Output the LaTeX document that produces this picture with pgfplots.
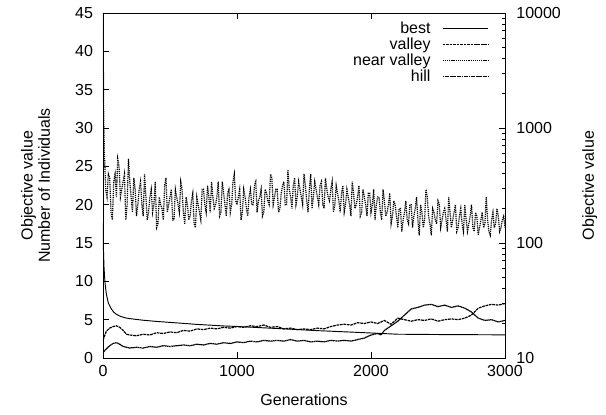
\documentclass[border=0pt]{standalone}
\usepackage{fontspec}
\setmainfont{Liberation Sans}
\usepackage{pgfplots}
\pgfplotsset{compat=1.18}
\begin{document}
\begin{tikzpicture}
\pgfplotsset{
  every axis/.append style={
    font=\fontsize{12}{13}\selectfont,
    /pgf/number format/assume math mode=true,
    /pgf/number format/1000 sep={},
    scale only axis, width=301.5pt, height=258.75pt,
    xmin=0, xmax=3000,
    tick align=inside,
    major tick length=4.5pt, minor tick length=2.5pt,
    every tick/.style={black, line width=0.5pt},
    axis line style={line width=0.6pt},
  },
}
\begin{axis}[
  ymin=0, ymax=45,
  xtick={0,1000,2000,3000},
  xticklabels={0,1000,2000,3000},
  ytick={0,5,10,15,20,25,30,35,40,45},
  xtick pos=both, ytick pos=left,
  xticklabel style={yshift=-2pt},
  yticklabel style={xshift=-4pt},
  xlabel={Generations},
  xlabel style={at={(axis description cs:0.5,-0.122)}, anchor=center},
  ylabel={Objective value\\Number of Individuals},
  ylabel style={at={(axis description cs:-0.168,0.5)}, anchor=center, align=center},
  legend style={draw=none, fill=none, at={(axis description cs:1,1)}, anchor=north east,
    xshift=-9pt, yshift=-3pt, row sep=-0.5pt, font=\fontsize{12}{13}\selectfont,
    nodes={inner sep=1.2pt}},
  legend cell align=right,
  legend plot pos=right,
  legend image code/.code={\path[draw=none, fill=none] (0pt,-2pt) rectangle (42pt,2pt); \draw[#1] (8pt,0pt) -- (42pt,0pt);},
]
\addlegendimage{black, line width=0.7pt}
\addlegendentry{best}
% valley (low line, upper at start)
\addplot[black, line width=0.9pt, dash pattern=on 2pt off 0.6pt] table[row sep=\\] {
x y\\
0 2.3\\ 25 3.5\\ 50 3.9\\ 75 4.1\\ 100 4.2\\ 125 4.0\\ 150 3.6\\ 175 3.1\\ 200 3.0\\ 250 2.9\\ 300 3.1\\ 350 3.0\\ 400 3.3\\ 450 3.2\\ 500 3.4\\ 550 3.3\\ 600 3.6\\ 650 3.5\\ 700 3.8\\ 750 3.7\\ 800 3.9\\ 850 3.8\\ 900 4.0\\ 950 3.9\\ 1000 4.1\\ 1050 4.0\\ 1100 4.2\\ 1150 4.1\\ 1200 4.3\\ 1250 4.0\\ 1300 4.1\\ 1350 3.8\\ 1400 3.9\\ 1450 3.7\\ 1500 3.8\\ 1550 3.7\\ 1600 3.9\\ 1650 3.8\\ 1700 4.1\\ 1750 4.3\\ 1800 4.4\\ 1850 4.3\\ 1900 4.6\\ 1950 4.5\\ 2000 4.7\\ 2050 4.5\\ 2100 4.9\\ 2150 4.4\\ 2200 5.2\\ 2250 5.0\\ 2300 4.8\\ 2350 5.0\\ 2400 4.9\\ 2450 5.1\\ 2500 4.8\\ 2550 5.0\\ 2600 5.1\\ 2650 5.0\\ 2700 5.2\\ 2750 5.6\\ 2800 6.5\\ 2850 6.8\\ 2900 7.0\\ 2950 6.9\\ 3000 7.1\\
};
\addlegendentry{valley}
% near valley (noisy band)
\addplot[black, line width=0.9pt, dash pattern=on 0.9pt off 0.7pt] table[row sep=\\] {
x y\\
0 45\\ 5 32\\ 10 27\\ 20 22\\ 30 21\\ 40 24\\ 50 23.5\\ 60 19\\ 70 18\\ 80 23\\ 90 24\\ 100 21\\ 110 26\\ 120 25\\ 130 21\\ 140 22\\ 150 23\\ 160 24\\ 170 18\\ 180 20\\ 190 26\\ 200 23\\ 210 21\\ 220 19\\ 230 23.5\\ 240 22\\ 250 18.5\\ 260 20\\ 270 22\\ 280 23\\ 290 20\\ 300 18.5\\ 310 24\\ 320 21\\ 330 18\\ 340 19\\ 350 21\\ 360 22\\ 370 19\\ 380 20\\ 390 23\\ 400 17\\ 410 17.5\\ 420 21\\ 430 20\\ 440 19.5\\ 450 18\\ 460 22.5\\ 470 23.5\\ 480 19\\ 490 20\\ 500 21\\ 510 22\\ 520 18\\ 530 18\\ 540 22\\ 550 21\\ 560 20\\ 570 19\\ 580 23\\ 590 22\\ 600 19\\ 610 17.5\\ 620 21\\ 630 20\\ 640 18\\ 650 18.5\\ 660 20.5\\ 670 21.5\\ 680 17.5\\ 690 17\\ 700 21\\ 710 20\\ 720 19\\ 730 18\\ 740 22\\ 750 22\\ 760 20\\ 770 19\\ 780 22.5\\ 790 21\\ 800 19\\ 810 23\\ 820 21\\ 830 19.5\\ 840 20\\ 850 21\\ 860 23\\ 870 18.5\\ 880 19\\ 890 23\\ 900 21.5\\ 910 20\\ 920 18.5\\ 930 21.5\\ 940 22\\ 950 19\\ 960 20\\ 970 23\\ 980 24\\ 990 20.5\\ 1000 20\\ 1010 21\\ 1020 22\\ 1030 18\\ 1040 19\\ 1050 22\\ 1060 21\\ 1070 19.5\\ 1080 18.5\\ 1090 21\\ 1100 22\\ 1110 20\\ 1120 20\\ 1130 22.5\\ 1140 23\\ 1150 19\\ 1160 20.5\\ 1170 21\\ 1180 22\\ 1190 18.5\\ 1200 19\\ 1210 22\\ 1220 21.5\\ 1230 20.5\\ 1240 20\\ 1250 24\\ 1260 23.5\\ 1270 20\\ 1280 21\\ 1290 22\\ 1300 22\\ 1310 19\\ 1320 19.5\\ 1330 21.5\\ 1340 22.5\\ 1350 23\\ 1360 20\\ 1370 20\\ 1380 24.5\\ 1390 22\\ 1400 21\\ 1410 19.5\\ 1420 22.5\\ 1430 23.5\\ 1440 20\\ 1450 21\\ 1460 23\\ 1470 22\\ 1480 21\\ 1490 20\\ 1500 24\\ 1510 22.5\\ 1520 20.5\\ 1530 19\\ 1540 22\\ 1550 24\\ 1560 19.5\\ 1570 21\\ 1580 23\\ 1590 22\\ 1600 21\\ 1610 20\\ 1620 22.5\\ 1630 23\\ 1640 20\\ 1650 19.5\\ 1660 23.5\\ 1670 22\\ 1680 21\\ 1690 20.5\\ 1700 22\\ 1710 23\\ 1720 19\\ 1730 20\\ 1740 22.5\\ 1750 21.5\\ 1760 20.5\\ 1770 19\\ 1780 21.5\\ 1790 22.5\\ 1800 19\\ 1810 20\\ 1820 22\\ 1830 21\\ 1840 20\\ 1850 18.5\\ 1860 23\\ 1870 21.5\\ 1880 19.5\\ 1890 20\\ 1900 21\\ 1910 22.5\\ 1920 18.5\\ 1930 19\\ 1940 22\\ 1950 21\\ 1960 20\\ 1970 18.5\\ 1980 21.5\\ 1990 21.5\\ 2000 19\\ 2010 20\\ 2020 22\\ 2030 18\\ 2040 20\\ 2050 21\\ 2060 21\\ 2070 19\\ 2080 18\\ 2090 22\\ 2100 20.5\\ 2110 18.5\\ 2120 19\\ 2130 20\\ 2140 21.5\\ 2150 17.5\\ 2160 18.5\\ 2170 20.5\\ 2180 20\\ 2190 18.5\\ 2200 17\\ 2210 19.5\\ 2220 19.5\\ 2230 16.5\\ 2240 18\\ 2250 19\\ 2260 20.5\\ 2270 18\\ 2280 17.5\\ 2290 20\\ 2300 20\\ 2310 17\\ 2320 18.5\\ 2330 19.5\\ 2340 21\\ 2350 18\\ 2360 16\\ 2370 20\\ 2380 19\\ 2390 17\\ 2400 18\\ 2410 22\\ 2420 21\\ 2430 18.5\\ 2440 17.5\\ 2450 16\\ 2460 19.5\\ 2470 19\\ 2480 18\\ 2490 17.5\\ 2500 20.5\\ 2510 20\\ 2520 17\\ 2530 18\\ 2540 19\\ 2550 19.5\\ 2560 18\\ 2570 16.5\\ 2580 21\\ 2590 19\\ 2600 17\\ 2610 18\\ 2620 19\\ 2630 20\\ 2640 16.5\\ 2650 17\\ 2660 18.5\\ 2670 19.5\\ 2680 17.5\\ 2690 16.5\\ 2700 20\\ 2710 18\\ 2720 16.5\\ 2730 17.5\\ 2740 18.5\\ 2750 20\\ 2760 17\\ 2770 16.5\\ 2780 19\\ 2790 18.5\\ 2800 16\\ 2810 17\\ 2820 18\\ 2830 19\\ 2840 17\\ 2850 17.5\\ 2860 21\\ 2870 18\\ 2880 16.5\\ 2890 16\\ 2900 18\\ 2910 19\\ 2920 17\\ 2930 17.5\\ 2940 19.5\\ 2950 18.5\\ 2960 16.5\\ 2970 17\\ 2980 18\\ 2990 18.5\\ 3000 17\\
};
\addlegendentry{near valley}
% hill (low line, lower at start)
\addplot[black, line width=0.9pt, dash pattern=on 1pt off 0.3pt] table[row sep=\\] {
x y\\
0 0.7\\ 25 1.2\\ 50 1.6\\ 75 1.9\\ 100 2.0\\ 125 1.8\\ 150 1.5\\ 175 1.4\\ 200 1.3\\ 250 1.4\\ 300 1.3\\ 350 1.5\\ 400 1.4\\ 450 1.6\\ 500 1.5\\ 550 1.6\\ 600 1.7\\ 650 1.6\\ 700 1.8\\ 750 1.7\\ 800 1.9\\ 850 1.8\\ 900 2.0\\ 950 1.9\\ 1000 2.1\\ 1050 2.0\\ 1100 2.2\\ 1150 2.1\\ 1200 2.3\\ 1250 2.2\\ 1300 2.3\\ 1350 2.2\\ 1400 2.4\\ 1450 2.2\\ 1500 2.3\\ 1550 2.1\\ 1600 2.2\\ 1650 2.1\\ 1700 2.3\\ 1750 2.2\\ 1800 2.3\\ 1850 2.2\\ 1900 2.4\\ 1950 2.6\\ 2000 3.0\\ 2050 3.2\\ 2075 3.0\\ 2100 3.6\\ 2150 4.2\\ 2200 4.8\\ 2250 5.6\\ 2300 6.4\\ 2350 6.6\\ 2400 6.9\\ 2450 7.0\\ 2500 6.7\\ 2550 6.9\\ 2600 6.6\\ 2650 6.8\\ 2700 6.5\\ 2750 6.0\\ 2800 5.2\\ 2850 4.9\\ 2900 5.0\\ 2950 4.7\\ 3000 4.9\\
};
\addlegendentry{hill}
\end{axis}
\begin{axis}[
  ymode=log, ymin=10, ymax=10000,
  axis x line=none, axis y line*=right,
  ytick={10,100,1000,10000},
  yticklabels={10,100,1000,10000},
  minor ytick={20,30,40,50,60,70,80,90,200,300,400,500,600,700,800,900,2000,3000,4000,5000,6000,7000,8000,9000},
  ytick pos=right,
  yticklabel style={xshift=5pt},
  ylabel={Objective value},
  ylabel style={at={(axis description cs:1.211,0.5)}, anchor=center},
]
\addplot[black, line width=0.7pt] coordinates {
(0,150) (3,90) (8,60) (15,45) (25,36) (40,30) (60,27) (80,25) (100,24) (130,23) (170,22.3) (200,22) (300,21.3) (400,20.8) (500,20.4) (600,20) (700,19.6) (800,19.3) (900,19) (1000,18.8) (1200,18.3) (1400,17.8) (1600,17.3) (1800,16.9) (1900,16.7) (2000,16.5) (2100,16.3) (2200,16.1) (2500,16.0) (3000,15.9)
};
\end{axis}
\pgfresetboundingbox
\path[use as bounding box] (-77.25pt,-42pt) rectangle (377.25pt,268.5pt);
\end{tikzpicture}
\end{document}
